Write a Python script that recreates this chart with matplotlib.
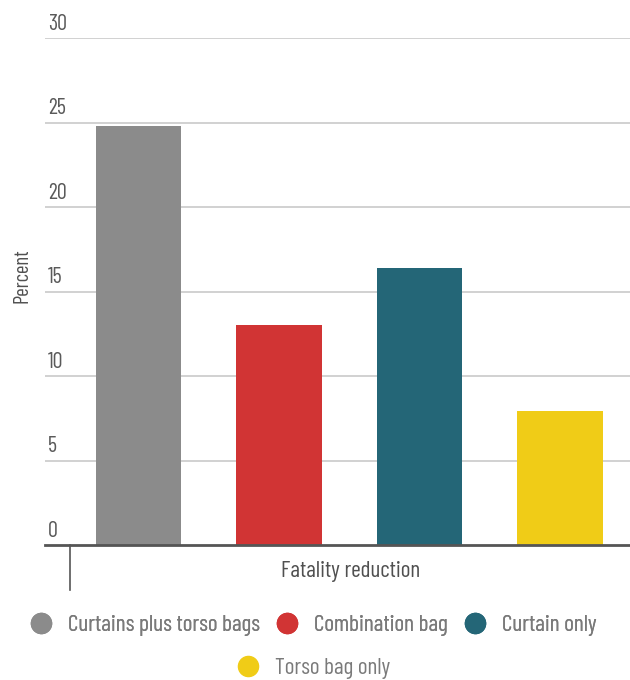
import matplotlib.pyplot as plt
from matplotlib.lines import Line2D

categories = ["Curtains plus torso bags", "Combination bag", "Curtain only", "Torso bag only"]
values = [24.8, 13.0, 16.4, 7.9]
colors = ["#8b8b8b", "#d13434", "#246677", "#f0cc17"]
yticks = [0, 5, 10, 15, 20, 25, 30]

plt.rcParams["font.family"] = ["Barlow Condensed", "DejaVu Sans"]

fig = plt.figure(figsize=(6.3, 6.8), dpi=100)
ax = fig.add_axes([45 / 630, 1 - 545 / 680, 585 / 630, 507 / 680])

x = list(range(len(values)))
ax.bar(x, values, width=0.61, color=colors, zorder=3)
ax.set_xlim(-0.665, 3.498)
ax.set_ylim(0, 30)

# light grid, labels sit just above each line
for t in yticks[1:]:
    ax.axhline(t, color="#c9c9c9", lw=1.2, zorder=1)
for t in yticks:
    ax.annotate(str(t), xy=(0.005, t), xycoords=("axes fraction", "data"),
                xytext=(0, 6), textcoords="offset points",
                ha="left", va="baseline", fontsize=16, color="#5a5a5a")

ax.set_xticks([])
ax.set_yticks([])
for s in ["top", "right", "left"]:
    ax.spines[s].set_visible(False)
ax.spines["bottom"].set_color("#555555")
ax.spines["bottom"].set_linewidth(2)
ax.spines["bottom"].set_zorder(4)

# short divider tick under the axis
ax.plot([-0.487, -0.487], [0, -0.089], transform=ax.get_xaxis_transform(),
        color="#555555", lw=1.2, clip_on=False)

ax.text(0.523, -0.052, "Fatality reduction", transform=ax.transAxes,
        ha="center", va="center", fontsize=16.8, color="#505050")
fig.text(22 / 630, 1 - 276 / 680, "Percent", rotation=90,
         ha="center", va="center", fontsize=15, color="#505050")

# legend: three entries on the first row, the last one centred below
handles = [Line2D([], [], marker="o", ls="", markersize=14.5, color=c) for c in colors]
opts = dict(loc="center", frameon=False, fontsize=16.8, labelcolor="#7a7a7a",
            handletextpad=0.66, handlelength=1.0, borderpad=0, borderaxespad=0)
leg1 = fig.legend(handles[:3], categories[:3], ncol=3, columnspacing=0.65,
                  bbox_to_anchor=(313 / 630, 1 - 625 / 680), **opts)
fig.add_artist(leg1)
fig.legend(handles[3:], categories[3:],
           bbox_to_anchor=(313 / 630, 1 - 668 / 680), **opts)

fig.savefig("out.png", dpi=100)
